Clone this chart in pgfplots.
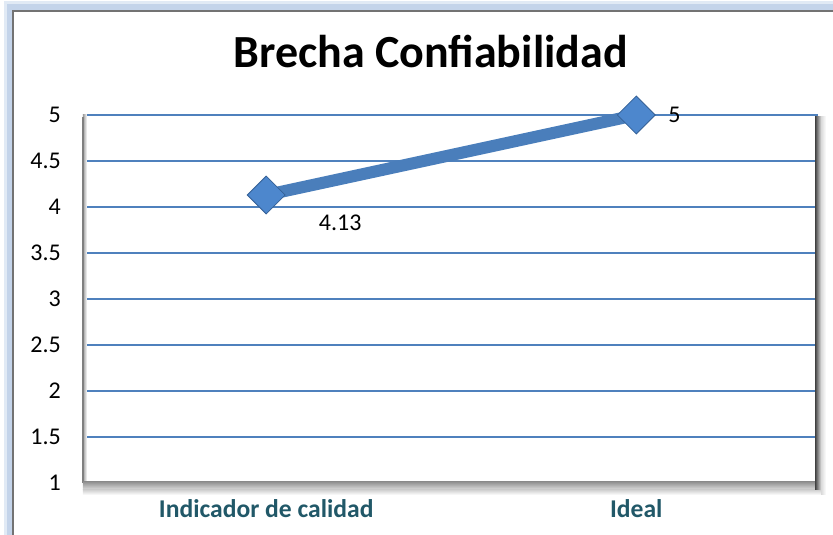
\documentclass[border=0pt]{standalone}
\usepackage{pgfplots}
\pgfplotsset{compat=1.18}
\usepackage{fontspec}
\setmainfont{Carlito}
\definecolor{gridblue}{RGB}{79,129,189}
\definecolor{lineblue}{RGB}{74,126,187}
\definecolor{markblue}{RGB}{77,135,205}
\definecolor{markedge}{RGB}{52,96,150}
\definecolor{teal}{RGB}{33,88,104}
\definecolor{glow}{RGB}{196,212,234}
\begin{document}
\begin{tikzpicture}[x=1pt,y=1pt]
\useasboundingbox (0,0) rectangle (833,535);
% outer chart frame with glow
\draw[glow, line width=9pt, line cap=rect] (8.5,0) -- (8.5,528.5) -- (840,528.5);
\draw[glow!50, line width=3pt] (5,0) -- (5,532) -- (840,532);
\draw[gray!90!black, line width=1.6pt] (13,-5) -- (13,524) -- (840,524);
\begin{axis}[
  at={(83pt,52pt)}, anchor=south west,
  scale only axis, width=735pt, height=368pt,
  xmin=-0.495, xmax=1.491, ymin=1, ymax=5,
  xtick={0,1}, xticklabels={Indicador de calidad, Ideal},
  ytick={1,1.5,2,2.5,3,3.5,4,4.5,5},
  yticklabels={1,1.5,2,2.5,3,3.5,4,4.5,5},
  major tick length=0pt,
  axis line style={draw=none},
  ymajorgrids, grid style={gridblue, line width=1.3pt},
  /pgf/number format/assume math mode=true,
  yticklabel style={font=\fontsize{24}{28}\selectfont, anchor=east, inner sep=0pt, xshift=-22pt},
  xticklabel style={font=\fontsize{25.6}{30}\selectfont\bfseries, text=teal, anchor=base, inner sep=0pt, yshift=-35pt},
  clip=false,
]
\addplot[lineblue, line width=12pt, mark=square*, mark size=13.4pt,
  mark options={rotate=45, fill=markblue, draw=markedge, line width=0.8pt}]
  coordinates {(0,4.13) (1,5)};
\addplot[draw=none, mark=none, nodes near coords,
  every node near coord/.style={font=\fontsize{24}{28}\selectfont, anchor=center, xshift=74pt, yshift=-28pt}]
  coordinates {(0,4.13)};
\addplot[draw=none, mark=none, nodes near coords,
  every node near coord/.style={font=\fontsize{24}{28}\selectfont, anchor=west, inner sep=0pt, xshift=32pt, yshift=0pt}]
  coordinates {(1,5)};
% 3D-like frame of the plot area
\shade[left color=gray!75, right color=white] (rel axis cs:0,0) rectangle ([xshift=4pt]rel axis cs:0,1);
\draw[gray, line width=1.4pt] ([yshift=-2pt]rel axis cs:0,1) -- (rel axis cs:0,0);
\shade[top color=gray!85, bottom color=gray!25] ([yshift=1pt]rel axis cs:0,0) rectangle ([xshift=3pt,yshift=-7pt]rel axis cs:1,0);
\shade[top color=gray!35, bottom color=white] ([yshift=-7pt]rel axis cs:0,0) rectangle ([xshift=5pt,yshift=-12pt]rel axis cs:1,0);
\shade[left color=black!75, right color=gray!30] ([xshift=-3pt,yshift=-2pt]rel axis cs:1,1) rectangle ([xshift=3pt,yshift=-7pt]rel axis cs:1,0);
\shade[left color=gray!30, right color=white] ([xshift=3pt,yshift=-2pt]rel axis cs:1,1) rectangle ([xshift=8pt,yshift=-12pt]rel axis cs:1,0);
\end{axis}
\node[anchor=base, font=\fontsize{46}{50}\selectfont\bfseries] at (430.5,467) {Brecha Confiabilidad};
\end{tikzpicture}
\end{document}
